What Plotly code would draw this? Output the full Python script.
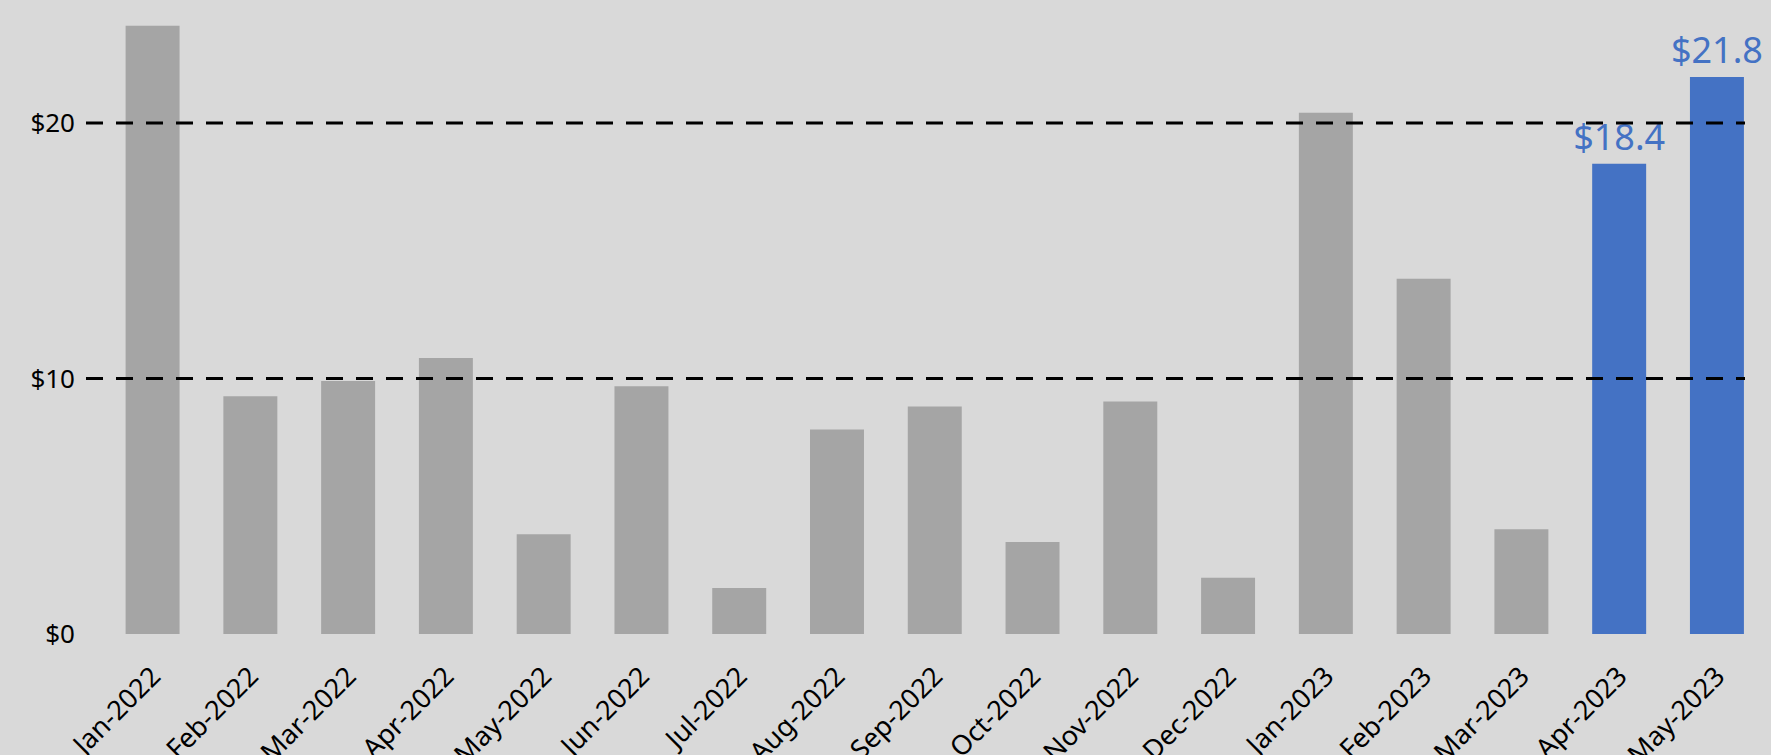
import plotly.graph_objects as go

# Monthly values (USD)
months = ["Jan-2022", "Feb-2022", "Mar-2022", "Apr-2022", "May-2022", "Jun-2022",
          "Jul-2022", "Aug-2022", "Sep-2022", "Oct-2022", "Nov-2022", "Dec-2022",
          "Jan-2023", "Feb-2023", "Mar-2023", "Apr-2023", "May-2023"]
values = [23.8, 9.3, 9.9, 10.8, 3.9, 9.7, 1.8, 8.0, 8.9, 3.6, 9.1, 2.2,
          20.4, 13.9, 4.1, 18.4, 21.8]
highlight = [False] * 15 + [True, True]

# Reference levels drawn as dashed lines
ref_levels = [10, 20]
tick_vals = [0, 10, 20]
tick_text = ["$0", "$10", "$20"]

GRAY = "#A5A5A5"
BLUE = "#4472C4"
BG = "#D9D9D9"

colors = [BLUE if h else GRAY for h in highlight]
labels = [f"${v:.1f}" if h else "" for v, h in zip(values, highlight)]

fig = go.Figure()
fig.add_trace(go.Bar(
    x=months,
    y=values,
    marker=dict(color=colors, line=dict(width=0)),
    width=0.552,
    text=labels,
    textposition="outside",
    constraintext="none",
    textfont=dict(family="Noto Sans", size=36, color=BLUE),
    cliponaxis=False,
    hoverinfo="x+y",
))

for lvl in ref_levels:
    fig.add_shape(type="line", xref="paper", x0=0, x1=1, yref="y", y0=lvl, y1=lvl,
                  line=dict(color="black", width=3, dash="17px,13px"), layer="above")

fig.update_layout(
    width=1771,
    height=755,
    margin=dict(l=86, r=26, t=10, b=121, autoexpand=False),
    paper_bgcolor=BG,
    plot_bgcolor=BG,
    showlegend=False,
    font=dict(family="Noto Sans", size=24, color="black"),
)
fig.update_xaxes(
    type="category",
    range=[-0.681, 16.287],
    showgrid=False,
    zeroline=False,
    showline=False,
    automargin=False,
    tickangle=-45,
    tickfont=dict(size=27),
    ticks="",
    ticklabelstandoff=20,
)
fig.update_yaxes(
    range=[0, 24.42],
    showgrid=False,
    zeroline=False,
    showline=False,
    automargin=False,
    tickvals=tick_vals,
    ticktext=tick_text,
    ticks="",
    ticklabelstandoff=10,
    tickfont=dict(size=26),
)

fig.write_html("out.html")
